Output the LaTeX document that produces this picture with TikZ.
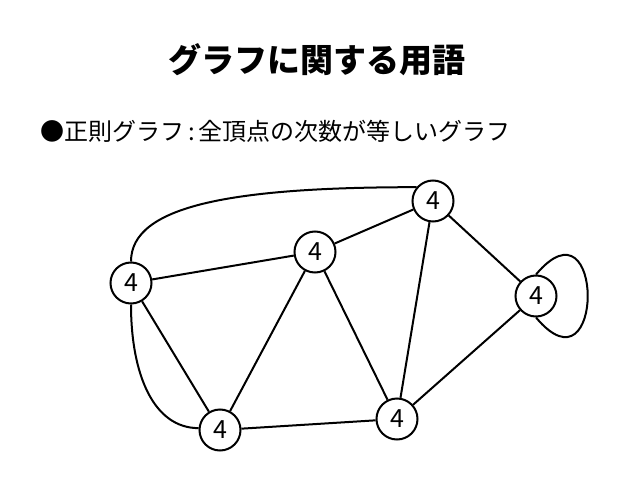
\documentclass[tikz,border=0pt]{standalone}
\usepackage{fontspec}
\setmainfont{Noto Sans CJK JP}
\usetikzlibrary{positioning}

\begin{document}
\begin{tikzpicture}[
  x=1pt, y=1pt,
  vertex/.style={circle, draw, line width=2pt, minimum size=41pt, inner sep=0pt, fill=white, font=\fontsize{25}{25}\selectfont},
  edge/.style={line width=2pt}
]
\useasboundingbox (0,0) rectangle (638,-479);
% heading
\node (title) at (317,-60) {\fontsize{33}{33}\selectfont\bfseries グラフに関する用語};
\node[anchor=west, inner sep=0pt] (def) at (40,-131) {\fontsize{24}{24}\selectfont ●正則グラフ\hspace{4pt}:\hspace{4pt}全頂点の次数が等しいグラフ};
% vertices
\node[vertex] (a) at (131,-283) {4};
\node[vertex] (b) at (315,-252) {4};
\node[vertex] (c) at (433,-201) {4};
\node[vertex] (d) at (536,-296) {4};
\node[vertex] (e) at (220,-430) {4};
\node[vertex] (f) at (397,-419) {4};
% edges
\draw[edge] (a) -- (b);
\draw[edge] (a) -- (e);
\draw[edge] (b) -- (c);
\draw[edge] (b) -- (e);
\draw[edge] (b) -- (f);
\draw[edge] (c) -- (f);
\draw[edge] (c) -- (d);
\draw[edge] (d) -- (f);
\draw[edge] (e) -- (f);
\draw[edge] (a.north) .. controls +(0,56) and +(-184,0) .. (c.140);
\draw[edge] (a.south) .. controls +(0,-70) and +(-45,0) .. (e.175);
\draw[edge] (d.north) to[out=50, in=-50, looseness=6.4] (d.south);
\end{tikzpicture}
\end{document}
